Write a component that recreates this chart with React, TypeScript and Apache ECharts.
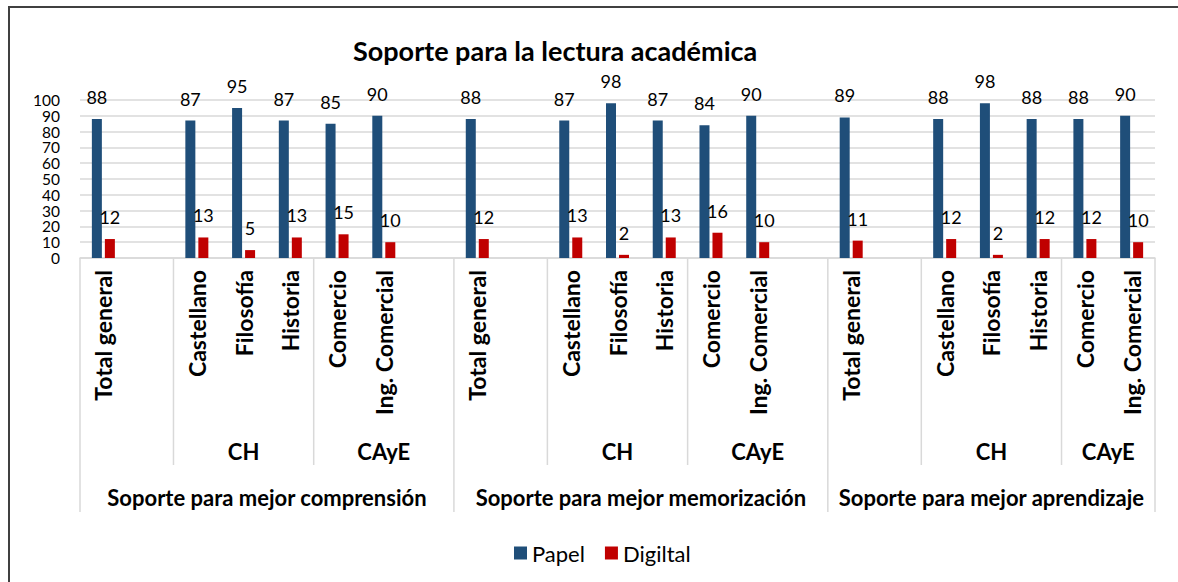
import React, { useEffect, useRef } from 'react';
import * as echarts from 'echarts';

// ---- Data ----
const titleText = 'Soporte para la lectura académica';
const seriesNames = ['Papel', 'Digiltal'];

// One slot per category position (Excel leaves empty slots in the multi-level axis)
const categories = [
  'Total general', '', 'Castellano', 'Filosofía', 'Historia', 'Comercio', 'Ing. Comercial', '',
  'Total general', '', 'Castellano', 'Filosofía', 'Historia', 'Comercio', 'Ing. Comercial', '',
  'Total general', '', 'Castellano', 'Filosofía', 'Historia', 'Comercio', 'Ing. Comercial',
];
const faculties = [
  '', '', 'CH', 'CH', 'CH', 'CAyE', 'CAyE', 'CAyE',
  '', '', 'CH', 'CH', 'CH', 'CAyE', 'CAyE', 'CAyE',
  '', '', 'CH', 'CH', 'CH', 'CAyE', 'CAyE',
];
const groupNames = [
  'Soporte para mejor comprensión',
  'Soporte para mejor memorización',
  'Soporte para mejor aprendizaje',
];
const groupOfSlot = [
  0, 0, 0, 0, 0, 0, 0, 0,
  1, 1, 1, 1, 1, 1, 1, 1,
  2, 2, 2, 2, 2, 2, 2,
];
const papel = [
  88, null, 87, 95, 87, 85, 90, null,
  88, null, 87, 98, 87, 84, 90, null,
  89, null, 88, 98, 88, 88, 90,
];
const digital = [
  12, null, 13, 5, 13, 15, 10, null,
  12, null, 13, 2, 13, 16, 10, null,
  11, null, 12, 2, 12, 12, 10,
];
const yMin = 0;
const yMax = 100;
const yStep = 10;
const yTickLabels = [0, 10, 20, 30, 40, 50, 60, 70, 80, 90, 100];

const FONT = 'Lato';
const GRID_COLOR = '#d9d9d9';
const TEXT_COLOR = '#000000';

function runs(arr: (string | number)[], within: number[]) {
  const out: { value: string | number; from: number; to: number }[] = [];
  for (let i = 0; i < arr.length; i++) {
    const last = out[out.length - 1];
    if (last && last.value === arr[i] && within[last.from] === within[i]) {
      last.to = i + 1;
    } else {
      out.push({ value: arr[i], from: i, to: i + 1 });
    }
  }
  return out;
}

export default function App() {
  const ref = useRef<HTMLDivElement>(null);

  useEffect(() => {
    const chart = echarts.init(ref.current!, null, { renderer: 'svg' });
    const labelStyle = { fontFamily: FONT, fontSize: 18, color: TEXT_COLOR };
    chart.setOption({
      animation: false,
      title: {
        text: titleText,
        left: 348,
        top: 32,
        textStyle: { fontFamily: FONT, fontSize: 27, fontWeight: 'bold', color: TEXT_COLOR },
      },
      legend: {
        data: seriesNames,
        left: 509,
        top: 537,
        icon: 'rect',
        itemWidth: 13,
        itemHeight: 13,
        itemGap: 20,
        textStyle: { fontFamily: FONT, fontSize: 22, color: TEXT_COLOR },
      },
      grid: { left: 80, right: 23, top: 100, bottom: 324 },
      xAxis: {
        type: 'category',
        data: categories,
        axisLine: { lineStyle: { color: GRID_COLOR, width: 1.5 } },
        axisTick: { show: false },
        axisLabel: {
          rotate: 90,
          interval: 0,
          margin: 12,
          fontFamily: FONT,
          fontSize: 23,
          fontWeight: 'bold',
          color: TEXT_COLOR,
        },
      },
      yAxis: {
        type: 'value',
        min: yMin,
        max: yMax,
        interval: yStep,
        axisLine: { show: false },
        axisTick: { show: false },
        splitLine: { lineStyle: { color: GRID_COLOR, width: 1.5 } },
        axisLabel: { show: false },
      },
      series: [
        {
          name: seriesNames[0],
          type: 'bar',
          data: papel,
          barWidth: 10,
          barGap: '30%',
          itemStyle: { color: '#1f4e79' },
          label: { show: true, position: 'top', distance: 13, ...labelStyle },
        },
        {
          name: seriesNames[1],
          type: 'bar',
          data: digital,
          barWidth: 10,
          barGap: '30%',
          itemStyle: { color: '#c00000' },
          label: { show: true, position: 'top', distance: 13, ...labelStyle },
        },
      ],
    });

    // Multi-level category axis: separators and level labels from the axis scale
    const c0 = chart.convertToPixel({ xAxisIndex: 0 }, 0) as number;
    const c1 = chart.convertToPixel({ xAxisIndex: 0 }, 1) as number;
    const w = c1 - c0;
    const bx = (k: number) => c0 - w / 2 + k * w;
    const axisY = chart.convertToPixel({ yAxisIndex: 0 }, yMin) as number;

    const elements: any[] = [];
    const sepStroke = { stroke: GRID_COLOR, lineWidth: 1.5 };
    const levelFont = { fontFamily: FONT, fontSize: 22, fontWeight: 'bold', fill: TEXT_COLOR };

    // value-axis tick labels (tightly packed, as in the reference)
    yTickLabels.forEach((v) => {
      elements.push({
        type: 'text',
        x: bx(0) - 20,
        y: chart.convertToPixel({ yAxisIndex: 0 }, v) as number,
        style: {
          text: String(v),
          textAlign: 'right',
          textVerticalAlign: 'middle',
          fontFamily: FONT,
          fontSize: 15.5,
          fill: TEXT_COLOR,
        },
      });
    });

    const facRuns = runs(faculties, groupOfSlot);
    facRuns.forEach((r) => {
      if (r.from > 0 && groupOfSlot[r.from - 1] === groupOfSlot[r.from]) {
        elements.push({
          type: 'line',
          shape: { x1: bx(r.from), y1: axisY, x2: bx(r.from), y2: axisY + 207 },
          style: sepStroke,
        });
      }
      if (r.value) {
        elements.push({
          type: 'text',
          x: (bx(r.from) + bx(r.to)) / 2,
          y: axisY + 193,
          style: {
            text: String(r.value),
            textAlign: 'center',
            textVerticalAlign: 'middle',
            ...levelFont,
          },
        });
      }
    });

    const grpRuns = runs(groupOfSlot, groupOfSlot);
    grpRuns.forEach((r, i) => {
      elements.push({
        type: 'line',
        shape: { x1: bx(r.from), y1: axisY, x2: bx(r.from), y2: axisY + 254 },
        style: sepStroke,
      });
      if (i === grpRuns.length - 1) {
        elements.push({
          type: 'line',
          shape: { x1: bx(r.to), y1: axisY, x2: bx(r.to), y2: axisY + 254 },
          style: sepStroke,
        });
      }
      elements.push({
        type: 'text',
        x: (bx(r.from) + bx(r.to)) / 2,
        y: axisY + 239,
        style: {
          text: groupNames[r.value as number],
          textAlign: 'center',
          textVerticalAlign: 'middle',
          ...levelFont,
        },
      });
    });

    // chart frame (only top and left edges visible in the crop)
    elements.push({
      type: 'rect',
      shape: { x: 9, y: 7, width: 1400, height: 800 },
      style: { fill: 'none', stroke: '#404040', lineWidth: 2 },
      silent: true,
    });

    chart.setOption({ graphic: elements });

    return () => chart.dispose();
  }, []);

  return (
    <div
      ref={ref}
      style={{ position: 'absolute', left: 0, top: 0, width: 1178, height: 582, background: '#fff' }}
    />
  );
}
